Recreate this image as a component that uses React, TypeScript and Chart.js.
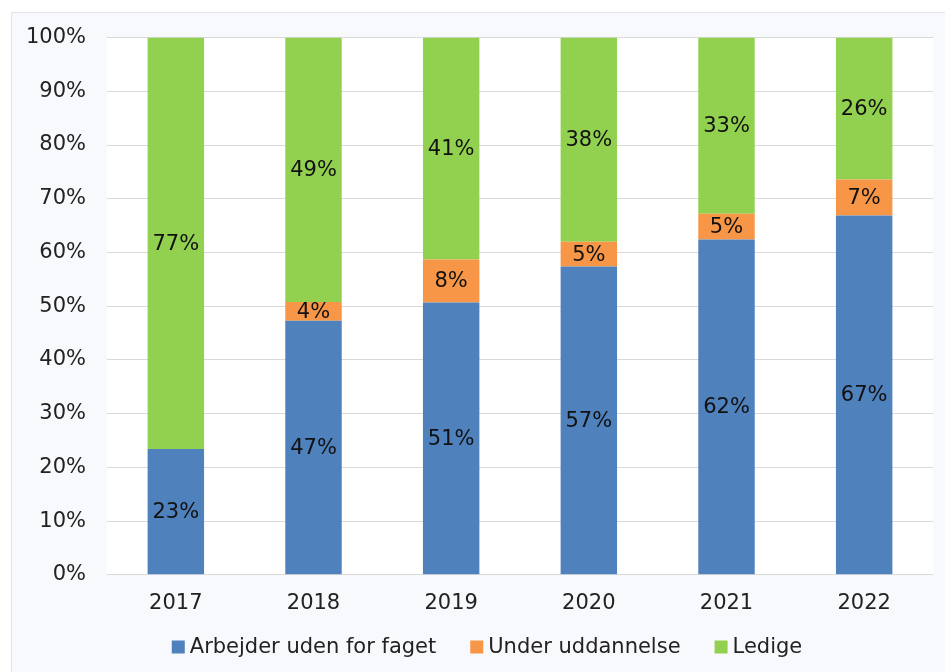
import React, { useEffect, useRef } from "react";
import { Chart, registerables } from "chart.js";

Chart.register(...registerables);

const categories = ["2017", "2018", "2019", "2020", "2021", "2022"];
const arbejder = [23.4, 47.3, 50.7, 57.4, 62.4, 66.9];
const underUddannelse = [0, 3.5, 8.0, 4.6, 4.8, 6.7];
const ledige = [76.6, 49.2, 41.3, 38.0, 32.8, 26.4];
const yTicks = [0, 10, 20, 30, 40, 50, 60, 70, 80, 90, 100];

const FONT = "'DejaVu Sans', Verdana, sans-serif";
const FS = 21;
const SHIFT = 9;

const plotBg = {
  id: "plotBg",
  beforeDraw(chart: any) {
    const { ctx, chartArea } = chart;
    ctx.save();
    ctx.fillStyle = "#ffffff";
    ctx.fillRect(chartArea.left, chartArea.top, chartArea.right - chartArea.left, chartArea.bottom - chartArea.top);
    ctx.restore();
  },
};

const valueLabels = {
  id: "valueLabels",
  afterDatasetsDraw(chart: any) {
    const { ctx } = chart;
    ctx.save();
    ctx.font = `${FS}px ${FONT}`;
    ctx.fillStyle = "#111";
    ctx.textAlign = "center";
    ctx.textBaseline = "middle";
    chart.data.datasets.forEach((ds: any, i: number) => {
      const meta = chart.getDatasetMeta(i);
      meta.data.forEach((bar: any, j: number) => {
        const v = ds.data[j];
        if (!v) return;
        const y = (bar.y + bar.base) / 2;
        ctx.fillText(Math.round(v) + "%", bar.x, y + 1);
      });
    });
    ctx.restore();
  },
};

const customLegend = {
  id: "customLegend",
  afterDraw(chart: any) {
    const { ctx } = chart;
    const box = 13;
    const gapText = 5;
    const gapItem = 34;
    const centerX = 475;
    const centerY = 634 + SHIFT;
    ctx.save();
    ctx.font = `${FS}px ${FONT}`;
    ctx.textBaseline = "middle";
    ctx.textAlign = "left";
    const items = chart.data.datasets.map((ds: any) => ({
      label: ds.label,
      color: ds.backgroundColor,
      w: box + gapText + ctx.measureText(ds.label).width,
    }));
    const total = items.reduce((s: number, it: any) => s + it.w, 0) + gapItem * (items.length - 1);
    let x = centerX - total / 2;
    items.forEach((it: any) => {
      ctx.fillStyle = it.color;
      ctx.fillRect(x, centerY - box / 2, box, box);
      ctx.fillStyle = "#222";
      ctx.fillText(it.label, x + box + gapText, centerY + 1);
      x += it.w + gapItem;
    });
    ctx.restore();
  },
};

export default function App() {
  const ref = useRef<HTMLCanvasElement>(null);
  useEffect(() => {
    document.body.style.margin = "0";
    const chart = new Chart(ref.current!, {
      type: "bar",
      data: {
        labels: categories,
        datasets: [
          { label: "Arbejder uden for faget", data: arbejder, backgroundColor: "#4f81bd" },
          { label: "Under uddannelse", data: underUddannelse, backgroundColor: "#f79646" },
          { label: "Ledige", data: ledige, backgroundColor: "#92d050" },
        ],
      },
      options: {
        animation: false,
        responsive: false,
        maintainAspectRatio: false,
        datasets: { bar: { barPercentage: 0.41, categoryPercentage: 1 } },
        layout: { padding: { top: 0, right: 13, bottom: 41, left: 0 } },
        plugins: {
          legend: { display: false },
          tooltip: { enabled: false },
        },
        scales: {
          x: {
            stacked: true,
            grid: { display: false, drawTicks: false },
            border: { display: false },
            ticks: { font: { family: FONT, size: FS }, color: "#222", padding: 16 },
          },
          y: {
            stacked: true,
            min: 0,
            max: 100,
            afterBuildTicks(scale: any) {
              scale.ticks = yTicks.map((v) => ({ value: v }));
            },
            afterFit(scale: any) {
              scale.width = 95;
            },
            grid: { color: "#d9d9d9", drawTicks: false },
            border: { display: false },
            ticks: {
              font: { family: FONT, size: FS },
              color: "#222",
              padding: 21,
              callback: (v: any) => v + "%",
            },
          },
        },
      },
      plugins: [plotBg, valueLabels, customLegend],
    });
    return () => chart.destroy();
  }, []);
  return (
    <div
      style={{
        position: "absolute",
        left: 11,
        top: 12,
        width: 934,
        height: 660,
        border: "1px solid #e2e4ea",
        borderRight: "none",
        borderBottom: "none",
        background: "#f8f9fd",
        overflow: "hidden",
      }}
    >
      <canvas
        ref={ref}
        width={934}
        height={660 + SHIFT}
        style={{ display: "block", position: "absolute", left: 0, top: -SHIFT }}
      />
    </div>
  );
}
